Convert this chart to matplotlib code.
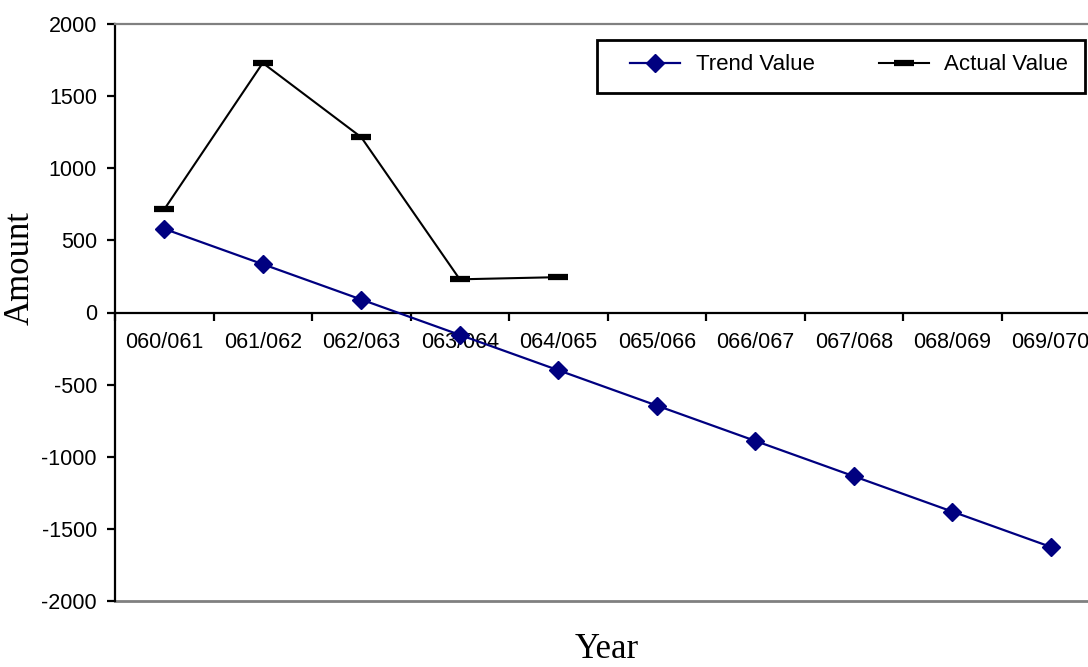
import matplotlib.pyplot as plt
from matplotlib.ticker import FixedLocator
from matplotlib.patches import Rectangle

plt.rcParams['axes.unicode_minus'] = False

# data
years = ['060/061', '061/062', '062/063', '063/064', '064/065',
         '065/066', '066/067', '067/068', '068/069', '069/070']
trend = [580, 335, 90, -155, -400, -645, -890, -1135, -1380, -1625]
actual = [715, 1730, 1215, 230, 245]

fig = plt.figure(figsize=(10.88, 6.67), dpi=100)
ax = fig.add_axes([115 / 1088, 1 - 601 / 667, 985 / 1088, 577 / 667])

x = list(range(len(years)))
ax.plot(x, trend, color='#000080', lw=1.6, marker='D', markersize=9,
        label='Trend Value', zorder=3)
ax.plot(x[:len(actual)], actual, color='black', lw=1.5, marker='_',
        markersize=15, markeredgewidth=4.5, label='Actual Value', zorder=3)

ax.set_xlim(-0.5, len(years) - 0.5)
ax.set_ylim(-2000, 2000)
ax.set_yticks(range(-2000, 2001, 500))

# x axis sits on zero, tick marks between categories
ax.spines['bottom'].set_position(('data', 0))
ax.spines['bottom'].set_linewidth(1.6)
ax.spines['left'].set_linewidth(1.6)
ax.set_xticks(x)
ax.set_xticklabels(years)
ax.xaxis.set_minor_locator(FixedLocator([i + 0.5 for i in range(-1, len(years))]))
ax.tick_params(axis='x', which='major', length=0, pad=14, labelsize=15.5)
ax.tick_params(axis='x', which='minor', length=6, width=1.6, direction='out')
ax.tick_params(axis='y', length=6, width=1.6, pad=7, labelsize=15.5)
for tl in ax.get_xticklabels() + ax.get_yticklabels():
    tl.set_fontfamily('Liberation Sans')

# grey plot-area border
for s in ['top', 'right']:
    ax.spines[s].set_color('#808080')
    ax.spines[s].set_linewidth(1.6)
ax.plot([0, 1], [0, 0], transform=ax.transAxes, color='#808080', lw=2,
        clip_on=False, zorder=1)

fig.text(607 / 1088, 1 - 650 / 667, 'Year', ha='center', va='center',
         fontsize=25, family='Liberation Serif')
fig.text(20 / 1088, 1 - 268 / 667, 'Amount', ha='center', va='center',
         rotation=90, fontsize=25, family='Liberation Serif')

# legend box drawn by hand, entries without frame
fig.patches.append(Rectangle((597 / 1088, 1 - 93 / 667), 488 / 1088, 53 / 667,
                             transform=fig.transFigure, fill=True,
                             facecolor='white', edgecolor='black', lw=2,
                             zorder=4))
leg = fig.legend(loc='center left', bbox_to_anchor=(630 / 1088, 1 - 65 / 667),
                 ncol=2, frameon=False,
                 prop={'family': 'Liberation Sans', 'size': 16},
                 handlelength=2.25, columnspacing=2.9, borderpad=0,
                 handletextpad=0.7, borderaxespad=0)
leg.set_zorder(5)

fig.savefig('out.png', dpi=100)
